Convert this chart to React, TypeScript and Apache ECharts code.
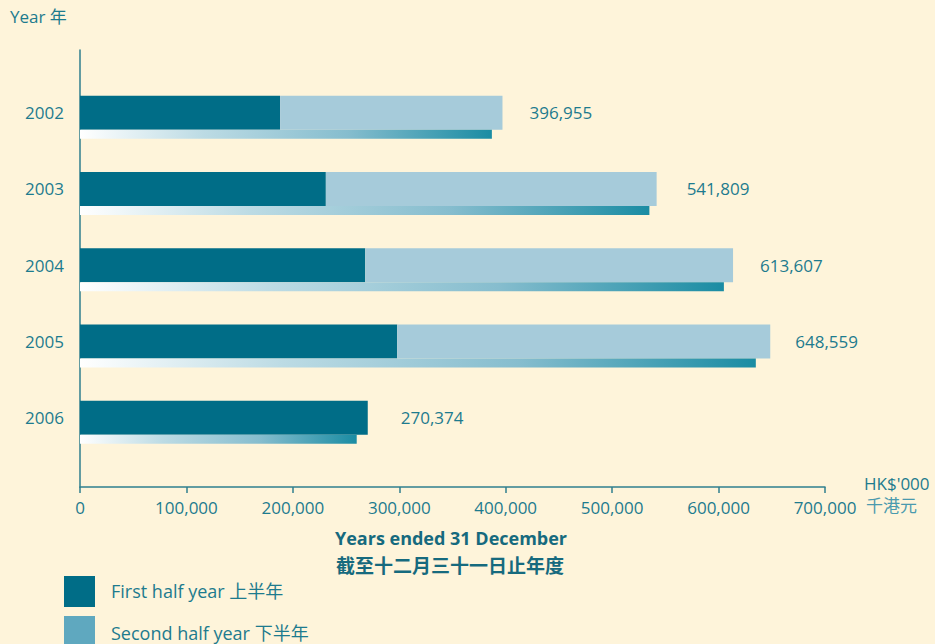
import React, { useEffect, useRef } from "react";
import * as echarts from "echarts";

const years = ["2002", "2003", "2004", "2005", "2006"];
const totals = [396955, 541809, 613607, 648559, 270374];
const firstHalf = [188000, 231000, 268000, 298000, 270374];
const shadowValues = [387000, 535000, 605000, 635000, 260000];
const xTicks = [0, 100000, 200000, 300000, 400000, 500000, 600000, 700000];
const labelGaps = [27, 30, 27, 25, 33];

const BG = "#fef4da";
const DARK = "#006d87";
const LIGHT = "#a6cbda";
const LEGEND_LIGHT = "#5fa8bf";
const TEXT = "#1d7b8e";
const AXIS = "#2f7f8e";
const FONT = "'Open Sans', 'Noto Sans CJK SC', sans-serif";

export default function App() {
  const ref = useRef<HTMLDivElement>(null);
  useEffect(() => {
    if (!ref.current) return;
    const chart = echarts.init(ref.current, null, { renderer: "svg" });
    const secondHalf = totals.map((t, i) => t - firstHalf[i]);
    const fmt = (v: number) => v.toLocaleString("en-US");
    const shadowGrad = new echarts.graphic.LinearGradient(0, 0, 1, 0, [
      { offset: 0, color: "#ffffff" },
      { offset: 0.3, color: "#bcdbe4" },
      { offset: 0.65, color: "#86bdce" },
      { offset: 1, color: "#1a8ca3" },
    ]);
    chart.setOption({
      animation: false,
      backgroundColor: BG,
      textStyle: { fontFamily: FONT },
      grid: [
        { left: 80, right: 110, top: 74.5, height: 381.25 },
        { left: 80, right: 110, top: 50, bottom: 157 },
      ],
      xAxis: [
        { type: "value", gridIndex: 0, min: 0, max: 700000, interval: 100000, show: false },
        {
          type: "value",
          gridIndex: 1,
          min: 0,
          max: 700000,
          interval: 100000,
          axisLine: { show: true, lineStyle: { color: AXIS, width: 1.5 } },
          axisTick: { show: true, length: 6, lineStyle: { color: AXIS, width: 1.5 } },
          splitLine: { show: false },
          axisLabel: {
            color: TEXT,
            fontSize: 17,
            fontFamily: FONT,
            margin: 12,
            formatter: (v: number) => (xTicks.includes(v) ? fmt(v) : ""),
          },
        },
      ],
      yAxis: [
        {
          type: "category",
          gridIndex: 0,
          inverse: true,
          data: years,
          axisLine: { show: false },
          axisTick: { show: false },
          axisLabel: { color: TEXT, fontSize: 17, fontFamily: FONT, margin: 16 },
        },
        {
          type: "value",
          gridIndex: 1,
          axisLine: { show: true, lineStyle: { color: AXIS, width: 1.5 } },
          axisTick: { show: false },
          axisLabel: { show: false },
          splitLine: { show: false },
        },
      ],
      series: [
        {
          type: "bar",
          name: "spacer",
          xAxisIndex: 0,
          yAxisIndex: 0,
          data: years.map(() => 0),
          barWidth: 9,
          barGap: 0,
          itemStyle: { color: "transparent" },
          silent: true,
        },
        {
          type: "bar",
          name: "First half year",
          stack: "a",
          xAxisIndex: 0,
          yAxisIndex: 0,
          data: firstHalf,
          barWidth: 34,
          barGap: 0,
          itemStyle: { color: DARK },
        },
        {
          type: "bar",
          name: "Second half year",
          stack: "a",
          xAxisIndex: 0,
          yAxisIndex: 0,
          data: secondHalf,
          barWidth: 34,
          barGap: 0,
          itemStyle: { color: LIGHT },
        },
        {
          type: "bar",
          name: "total",
          stack: "a",
          xAxisIndex: 0,
          yAxisIndex: 0,
          barWidth: 34,
          barGap: 0,
          data: totals.map((t, i) => ({
            value: 0,
            label: {
              show: true,
              position: "right",
              distance: labelGaps[i],
              formatter: fmt(t),
              color: TEXT,
              fontSize: 17,
              fontFamily: FONT,
            },
          })),
          itemStyle: { color: "transparent" },
        },
        {
          type: "bar",
          name: "shadow",
          xAxisIndex: 0,
          yAxisIndex: 0,
          data: shadowValues,
          barWidth: 9,
          barGap: 0,
          itemStyle: { color: shadowGrad },
          silent: true,
        },
      ],
      graphic: [
        { type: "text", left: 10, top: 8, style: { text: "Year 年", fill: TEXT, fontSize: 17, fontFamily: FONT } },
        { type: "text", left: 864, top: 475, style: { text: "HK$'000", fill: TEXT, fontSize: 17, fontFamily: FONT } },
        { type: "text", left: 866, top: 497, style: { text: "千港元", fill: "#4a9aae", fontSize: 17, fontFamily: FONT } },
        {
          type: "text",
          x: 451,
          y: 538,
          style: {
            text: "Years ended 31 December",
            fill: "#166a7e",
            fontSize: 18,
            fontWeight: "bold",
            fontFamily: FONT,
            textAlign: "center",
            textVerticalAlign: "middle",
          },
        },
        {
          type: "text",
          x: 450,
          y: 564,
          style: {
            text: "截至十二月三十一日止年度",
            fill: "#166a7e",
            fontSize: 19,
            fontWeight: "bold",
            fontFamily: "'Noto Sans CJK SC', sans-serif",
            textAlign: "center",
            textVerticalAlign: "middle",
          },
        },
        { type: "rect", shape: { x: 64, y: 576, width: 31, height: 31 }, style: { fill: DARK } },
        { type: "rect", shape: { x: 64, y: 616, width: 31, height: 31 }, style: { fill: LEGEND_LIGHT } },
        {
          type: "text",
          x: 111,
          y: 591,
          style: { text: "First half year 上半年", fill: TEXT, fontSize: 18, fontFamily: FONT, textVerticalAlign: "middle" },
        },
        {
          type: "text",
          x: 111,
          y: 633,
          style: { text: "Second half year 下半年", fill: TEXT, fontSize: 18, fontFamily: FONT, textVerticalAlign: "middle" },
        },
      ],
    });
    return () => chart.dispose();
  }, []);
  return (
    <div
      ref={ref}
      style={{ position: "fixed", left: 0, top: 0, width: 935, height: 644 }}
    />
  );
}
